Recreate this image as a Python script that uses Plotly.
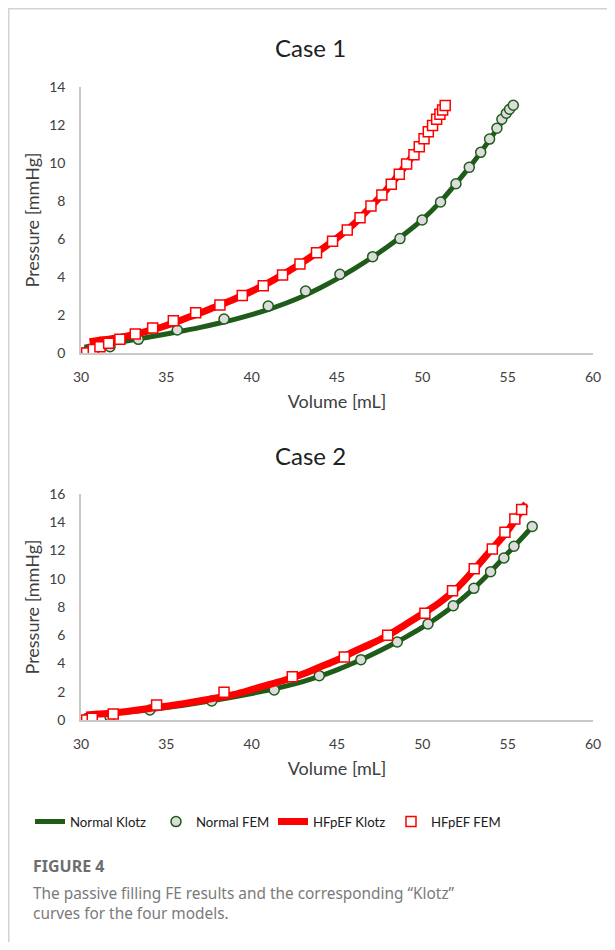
import plotly.graph_objects as go

# ---------------- Case 1 data ----------------
c1_normal_klotz_v = [30.2, 31, 32, 33, 34, 35, 36, 37, 38, 39, 40, 41, 42, 43, 44, 45, 46, 47, 48, 49, 50, 51, 52, 53, 54, 55, 55.3]
c1_normal_klotz_p = [0.3, 0.42, 0.54, 0.68, 0.84, 1.0, 1.17, 1.35, 1.55, 1.77, 2.02, 2.3, 2.62, 2.99, 3.42, 3.9, 4.43, 5.0, 5.62, 6.29, 7.02, 7.9, 8.95, 10.05, 11.3, 12.6, 13.0]
c1_normal_fem_v = [30.3, 31.7, 33.36, 35.64, 38.38, 40.97, 43.16, 45.17, 47.09, 48.69, 49.99, 51.07, 51.97, 52.75, 53.42, 53.94, 54.37, 54.66, 54.92, 55.11, 55.33]
c1_normal_fem_p = [0.05, 0.33, 0.72, 1.21, 1.79, 2.47, 3.26, 4.14, 5.07, 6.02, 7.0, 7.95, 8.91, 9.77, 10.56, 11.26, 11.83, 12.3, 12.62, 12.83, 13.04]
c1_hf_klotz_v = [30.5, 31, 32, 33, 34, 35, 36, 37, 38, 39, 40, 41, 42, 43, 44, 45, 46, 47, 48, 49, 50, 51, 51.35]
c1_hf_klotz_p = [0.6, 0.66, 0.78, 0.95, 1.18, 1.45, 1.78, 2.12, 2.48, 2.84, 3.25, 3.7, 4.22, 4.78, 5.4, 6.05, 6.8, 7.72, 8.7, 9.85, 11.1, 12.5, 13.1]
c1_hf_fem_v = [30.33, 30.72, 31.11, 31.62, 32.28, 33.18, 34.2, 35.41, 36.72, 38.14, 39.45, 40.68, 41.81, 42.83, 43.8, 44.74, 45.6, 46.35, 46.99, 47.63, 48.18, 48.65, 49.08, 49.51, 49.82, 50.1, 50.35, 50.6, 50.84, 51.03, 51.19, 51.34]
c1_hf_fem_p = [0.0, 0.19, 0.33, 0.51, 0.72, 1.0, 1.32, 1.7, 2.12, 2.53, 3.02, 3.54, 4.1, 4.68, 5.28, 5.88, 6.47, 7.12, 7.74, 8.32, 8.88, 9.41, 9.95, 10.44, 10.86, 11.28, 11.65, 11.98, 12.3, 12.56, 12.79, 13.02]

# ---------------- Case 2 data ----------------
c2_normal_klotz_v = [30.2, 31, 32, 33, 34, 35, 36, 37, 38, 39, 40, 41, 42, 43, 44, 45, 46, 47, 48, 49, 50, 51, 52, 53, 54, 55, 56, 56.45]
c2_normal_klotz_p = [0.3, 0.4, 0.5, 0.6, 0.72, 0.88, 1.05, 1.23, 1.43, 1.65, 1.88, 2.12, 2.4, 2.72, 3.1, 3.55, 4.05, 4.6, 5.2, 5.85, 6.55, 7.35, 8.25, 9.3, 10.5, 11.8, 13.1, 13.7]
c2_normal_fem_v = [30.3, 31.7, 34.04, 37.66, 41.32, 43.96, 46.4, 48.53, 50.33, 51.81, 53.02, 54.0, 54.78, 55.37, 56.44]
c2_normal_fem_p = [0.05, 0.24, 0.71, 1.35, 2.12, 3.14, 4.27, 5.52, 6.8, 8.09, 9.32, 10.5, 11.47, 12.3, 13.7]
c2_hf_klotz_v = [30.3, 31, 32, 33, 34, 35, 36, 37, 38, 39, 40, 41, 42, 43, 44, 45, 46, 47, 48, 49, 50, 51, 52, 53, 54, 55, 56, 56.07]
c2_hf_klotz_p = [0.35, 0.42, 0.52, 0.66, 0.82, 0.98, 1.16, 1.36, 1.58, 1.82, 2.15, 2.5, 2.85, 3.25, 3.75, 4.25, 4.85, 5.4, 6.0, 6.75, 7.5, 8.3, 9.3, 10.6, 12.0, 13.4, 15.2, 15.3]
c2_hf_fem_v = [30.33, 30.66, 31.89, 34.43, 38.38, 42.38, 45.43, 47.97, 50.15, 51.77, 53.04, 54.1, 54.84, 55.42, 55.82]
c2_hf_fem_p = [0.0, 0.12, 0.42, 1.06, 1.96, 3.07, 4.46, 6.0, 7.55, 9.15, 10.71, 12.1, 13.29, 14.23, 14.91]

series_names = ["Normal Klotz", "Normal FEM", "HFpEF Klotz", "HFpEF FEM"]
x_ticks = [30, 35, 40, 45, 50, 55, 60]
c1_y_ticks = [0, 2, 4, 6, 8, 10, 12, 14]
c2_y_ticks = [0, 2, 4, 6, 8, 10, 12, 14, 16]

GREEN = "#1F5C1A"
RED = "#FF0000"
FONT = "Lato"
OFF = 8          # page body margin
W, H = 599, 934  # figure fits inside the 615x950 window

def px_x(p):
    return (p - OFF) / W

def px_y(p):
    return 1 - (p - OFF) / H

fig = go.Figure()

legend_widths = [81, 72, 73, 70]

cases = [
    (c1_normal_klotz_v, c1_normal_klotz_p, c1_normal_fem_v, c1_normal_fem_p,
     c1_hf_klotz_v, c1_hf_klotz_p, c1_hf_fem_v, c1_hf_fem_p, "x", "y", True),
    (c2_normal_klotz_v, c2_normal_klotz_p, c2_normal_fem_v, c2_normal_fem_p,
     c2_hf_klotz_v, c2_hf_klotz_p, c2_hf_fem_v, c2_hf_fem_p, "x2", "y2", False),
]
for (nkv, nkp, nfv, nfp, hkv, hkp, hfv, hfp, xa, ya, show) in cases:
    fig.add_trace(go.Scatter(x=nkv, y=nkp, mode="lines", name=series_names[0],
                             line=dict(color=GREEN, width=5, shape="spline"),
                             xaxis=xa, yaxis=ya, showlegend=show, legendrank=1,
                             legendwidth=legend_widths[0]))
    fig.add_trace(go.Scatter(x=nfv, y=nfp, mode="markers", name=series_names[1],
                             marker=dict(symbol="circle", size=10, color="#DCDCDC",
                                         line=dict(color=GREEN, width=1.5)),
                             xaxis=xa, yaxis=ya, showlegend=show, legendrank=2,
                             legendwidth=legend_widths[1]))
    fig.add_trace(go.Scatter(x=hkv, y=hkp, mode="lines", name=series_names[2],
                             line=dict(color=RED, width=7, shape="spline"),
                             xaxis=xa, yaxis=ya, showlegend=show, legendrank=3,
                             legendwidth=legend_widths[2]))
    fig.add_trace(go.Scatter(x=hfv, y=hfp, mode="markers", name=series_names[3],
                             marker=dict(symbol="square", size=10, color="white",
                                         line=dict(color=RED, width=1.5)),
                             xaxis=xa, yaxis=ya, showlegend=show, legendrank=4,
                             legendwidth=legend_widths[3]))

axis_common = dict(showgrid=False, zeroline=False, showline=True, linecolor="#C8C8C8",
                   linewidth=1.5, ticks="", automargin=False,
                   tickfont=dict(family=FONT, size=14, color="#404040"))
title_font = dict(family=FONT, size=18, color="#404040")

fig.update_layout(
    template="none",
    width=W, height=H,
    margin=dict(l=0, r=0, t=0, b=0, pad=0),
    paper_bgcolor="white", plot_bgcolor="white",
    font=dict(family=FONT, color="#404040"),
    xaxis=dict(domain=[px_x(81), px_x(593)], range=[30, 60], tickvals=x_ticks,
               anchor="y", ticklabelstandoff=10,
               title=dict(text="Volume [mL]", font=title_font, standoff=12),
               **axis_common),
    yaxis=dict(domain=[px_y(353), px_y(87)], range=[0, 14], tickvals=c1_y_ticks,
               anchor="x", ticklabelstandoff=11,
               title=dict(text="Pressure [mmHg]", font=title_font, standoff=5),
               **axis_common),
    xaxis2=dict(domain=[px_x(81), px_x(593)], range=[30, 60], tickvals=x_ticks,
                anchor="y2", ticklabelstandoff=10,
                title=dict(text="Volume [mL]", font=title_font, standoff=12),
                **axis_common),
    yaxis2=dict(domain=[px_y(720), px_y(494)], range=[0, 16], tickvals=c2_y_ticks,
                anchor="x2", ticklabelstandoff=11,
                title=dict(text="Pressure [mmHg]", font=title_font, standoff=5),
                **axis_common),
    legend=dict(orientation="h", x=px_x(30), y=px_y(822), xanchor="left", yanchor="middle",
                font=dict(family=FONT, size=13.2, color="#202020"), bgcolor="rgba(0,0,0,0)",
                borderwidth=0, traceorder="normal"),
    showlegend=True,
)

fig.add_annotation(text="Case 1", x=px_x(310), y=px_y(48), xref="paper", yref="paper",
                   xanchor="center", yanchor="middle",
                   showarrow=False, font=dict(family=FONT, size=24, color="#202020"))
fig.add_annotation(text="Case 2", x=px_x(310), y=px_y(455), xref="paper", yref="paper",
                   xanchor="center", yanchor="middle",
                   showarrow=False, font=dict(family=FONT, size=24, color="#202020"))
fig.add_annotation(text="<b>FIGURE 4</b>", x=px_x(31), y=px_y(866), xref="paper", yref="paper",
                   xanchor="left", yanchor="middle", showarrow=False,
                   font=dict(family="Noto Sans", size=16, color="#6E6E6E"))
fig.add_annotation(text="The passive filling FE results and the corresponding \u201cKlotz\u201d<br>curves for the four models.",
                   x=px_x(31), y=px_y(903), xref="paper", yref="paper",
                   xanchor="left", yanchor="middle", align="left", showarrow=False,
                   font=dict(family="Noto Sans", size=15.4, color="#7A7A7A"))

# page frame lines (as close to the top-left edge as the page allows)
fig.add_shape(type="line", xref="paper", yref="paper", x0=0, x1=1, y0=1 - 0.75 / H, y1=1 - 0.75 / H,
              line=dict(color="#D3D3D3", width=1.5))
fig.add_shape(type="line", xref="paper", yref="paper", x0=0.75 / W, x1=0.75 / W, y0=1, y1=0,
              line=dict(color="#D3D3D3", width=1.5))

fig.write_html("out.html")
